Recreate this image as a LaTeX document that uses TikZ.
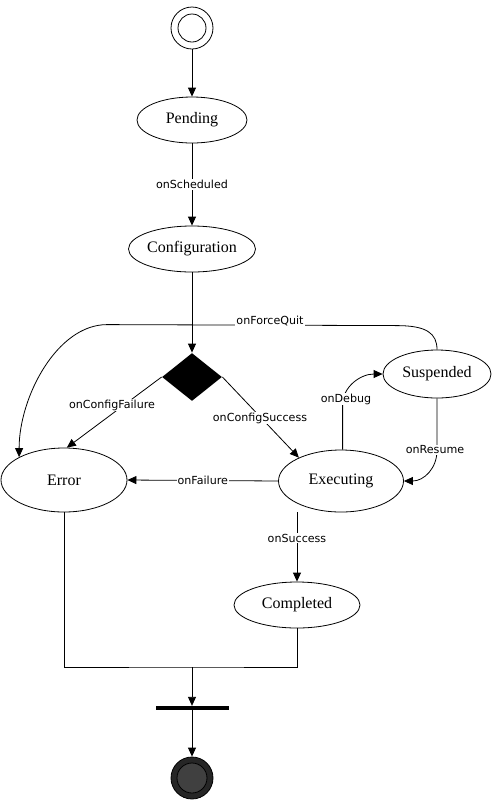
\documentclass[tikz,border=0pt]{standalone}
\usepackage{fontspec}
\setmainfont{Liberation Serif}
\newfontfamily\lblfont{DejaVu Sans}
\usetikzlibrary{arrows.meta,shapes.geometric,calc}
\begin{document}
\begin{tikzpicture}[x=1pt,y=-1pt,
  every path/.style={line width=0.8pt},
  flow/.style={draw=black,line width=0.8pt,-{Triangle[length=9pt,width=8pt]}},
  plain/.style={draw=black,line width=0.8pt},
  state/.style={ellipse,draw=black,line width=0.8pt,fill=white,inner sep=0pt,
    font=\fontsize{16}{19}\selectfont},
  lbl/.style={fill=white,inner sep=1pt,font=\lblfont\fontsize{11.1}{13}\selectfont},
]
\useasboundingbox[fill=white] (0,0) rectangle (493,807);

% initial and final pseudo-states
\node[circle,draw=black,line width=0.8pt,minimum size=42pt,inner sep=0pt] (start) at (192,28) {};
\node[circle,draw=black,line width=0.8pt,minimum size=28pt,inner sep=0pt] at (start.center) {};
\node[circle,draw=black,line width=0.8pt,fill=black!85,minimum size=42pt,inner sep=0pt] (final) at (192,778) {};
\node[circle,draw=black,line width=0.8pt,fill=black!75,minimum size=30pt,inner sep=0pt] at (final.center) {};

% states
\node[state,minimum width=110pt,minimum height=46pt] (pend) at (192,120) {Pending};
\node[state,minimum width=127pt,minimum height=46pt] (conf) at (192,249) {Configuration};
\node[diamond,fill=black,inner sep=0pt,minimum width=60pt,minimum height=48pt] (dec) at (192,377) {};
\node[state,minimum width=108pt,minimum height=48pt] (susp) at (437,374) {Suspended};
\node[state,minimum width=126pt,minimum height=64pt] (err) at (64,480) {Error};
\node[state,minimum width=125pt,minimum height=62pt] (exec) at (341,481) {Executing};
\node[state,minimum width=126pt,minimum height=46pt] (done) at (297,605) {Completed};

% join bar
\node[rectangle,fill=black,inner sep=0pt,minimum width=73pt,minimum height=3.5pt] (bar) at (192,708) {};
\coordinate (join) at (192,667);

% transitions
\draw[flow] (start) -- (pend);
\draw[flow] (pend) -- node[lbl] {onScheduled} (conf);
\draw[flow] (conf) -- (dec.north);
\draw[flow] (dec.west) -- (err.85);
\node[lbl] at (112,405) {onConfigFailure};
\draw[flow] (dec.east) -- (exec.151);
\node[lbl] at (260,418) {onConfigSuccess};
\draw[flow] (exec.west) -- node[lbl] {onFailure} (err.east);
\draw[flow] (exec.87) -- ++(0,-45) coordinate (dbg)
  .. controls +(0,-18) and +(-22,0) .. (susp.west);
\node[lbl] at (346,399) {onDebug};
\draw[flow] (susp.south) -- ++(0,52) coordinate (res)
  .. controls +(0,18) and +(20,0) .. (exec.east);
\node[lbl] at (435,450) {onResume};
\draw[flow] (susp.north) .. controls +(0,-16) and +(30,0) .. ++(-40,-24) coordinate (fq)
  -- ++(-290,-1) coordinate (fq2)
  .. controls +(-50,0) and +(0,-60) .. (err.153);
\node[lbl] at (270,321) {onForceQuit};
\draw[flow] (exec.south -| done.north) -- node[lbl,pos=0.37] {onSuccess} (done.north);

% merge into join bar
\draw[plain] (err.south) |- (join) -| (done.south);
\draw[flow] (join) -- (bar.north);
\draw[flow] (bar.south) -- (final.north);
\end{tikzpicture}
\end{document}
